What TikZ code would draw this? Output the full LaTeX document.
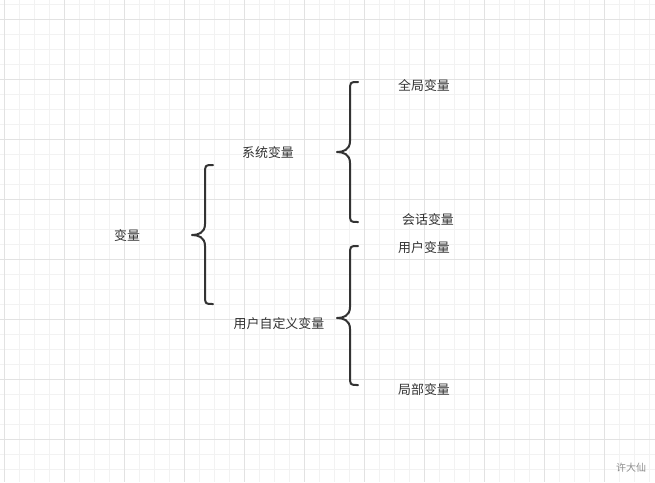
\documentclass[tikz,border=0pt]{standalone}
\usepackage{fontspec}
\newfontfamily\cjk{Noto Sans CJK SC}
\definecolor{gridminor}{HTML}{F2F2F2}
\definecolor{gridmajor}{HTML}{E2E2E2}
\definecolor{inkc}{HTML}{333333}
\newcommand\curlyb[4]{% #1 x of tip, #2 y top, #3 y tip, #4 y bottom
  \draw[bracestyle] ({#1+21},#2) .. controls ({#1+13},#2) .. ({#1+13},{#2+9})
    -- ({#1+13},{#3-11}) .. controls ({#1+13},{#3-2}) and ({#1+6},#3) .. (#1,#3)
    .. controls ({#1+6},#3) and ({#1+13},{#3+2}) .. ({#1+13},{#3+11})
    -- ({#1+13},{#4-9}) .. controls ({#1+13},#4) .. ({#1+21},#4);}
\begin{document}
\begin{tikzpicture}[x=0.75pt,y=-0.75pt,
  lbl/.style={font=\cjk\fontsize{9.7pt}{11pt}\selectfont, text=inkc, inner sep=0pt},
  wm/.style={font=\cjk\fontsize{7.5pt}{9pt}\selectfont, text=black!45, inner sep=0pt},
  bracestyle/.style={draw=inkc, line width=1.5pt, line cap=round, line join=round}]
\useasboundingbox (0,0) rectangle (655,482);
\fill[white] (0,0) rectangle (655,482);
% grid
\foreach \x in {4,19,...,654} {\draw[gridminor, line width=0.75pt] (\x,0) -- (\x,482);}
\foreach \y in {4,19,...,481} {\draw[gridminor, line width=0.75pt] (0,\y) -- (655,\y);}
\foreach \x in {4,64,...,654} {\draw[gridmajor, line width=0.75pt] (\x,0) -- (\x,482);}
\foreach \y in {19,79,...,481} {\draw[gridmajor, line width=0.75pt] (0,\y) -- (655,\y);}
% braces
\curlyb{192}{165}{235}{304}
\curlyb{337}{82}{152}{222}
\curlyb{337}{246}{318}{385}
% labels
\node[lbl] (bl) at (127,236) {变量};
\node[lbl] (xt) at (268,153) {系统变量};
\node[lbl] (yh) at (279,324) {用户自定义变量};
\node[lbl] (qj) at (424,86) {全局变量};
\node[lbl] (hh) at (428,220) {会话变量};
\node[lbl] (yb) at (424,248) {用户变量};
\node[lbl] (jb) at (424,390) {局部变量};
\node[wm] (wmk) at (631,468) {许大仙};
\end{tikzpicture}
\end{document}
